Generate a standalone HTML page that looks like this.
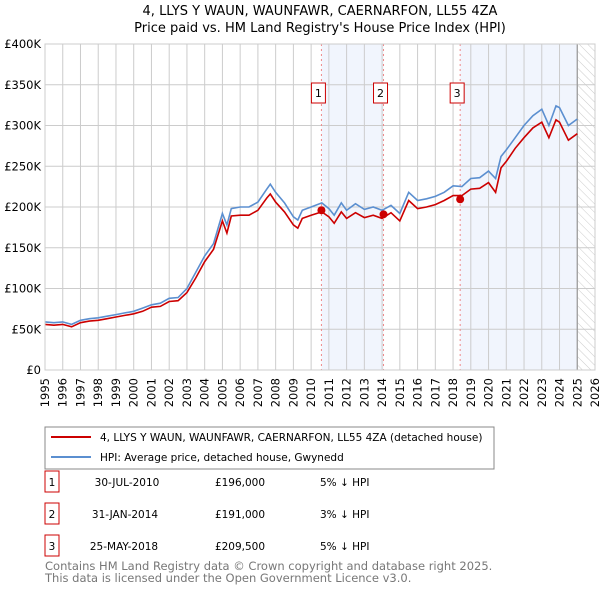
<!DOCTYPE html>
<html><head><meta charset="utf-8">
<style>
body{margin:0;background:#fff;font-family:"Liberation Sans","DejaVu Sans",sans-serif;}
svg text{font-family:"DejaVu Sans","Liberation Sans",sans-serif;}
</style></head>
<body>
<svg width="600" height="590" viewBox="0 0 600 590" xmlns="http://www.w3.org/2000/svg">
<defs>
<pattern id="hatch" width="6" height="6" patternUnits="userSpaceOnUse" patternTransform="rotate(-45)">
<line x1="0" y1="0" x2="0" y2="6" stroke="#ccc" stroke-width="1"/>
</pattern>
</defs>
<text x="320" y="15" text-anchor="middle" font-size="13">4, LLYS Y WAUN, WAUNFAWR, CAERNARFON, LL55 4ZA</text>
<text x="320" y="32" text-anchor="middle" font-size="13">Price paid vs. HM Land Registry's House Price Index (HPI)</text>
<g id="plot"></g>
<g>
<rect x="45" y="427" width="449" height="42" fill="#fff" stroke="#888"/>
<line x1="51" y1="437" x2="91" y2="437" stroke="#cc0000" stroke-width="2"/>
<text x="100" y="441" font-size="10.5">4, LLYS Y WAUN, WAUNFAWR, CAERNARFON, LL55 4ZA (detached house)</text>
<line x1="51" y1="457" x2="91" y2="457" stroke="#5b8fd0" stroke-width="2"/>
<text x="100" y="461" font-size="10.5">HPI: Average price, detached house, Gwynedd</text>
</g>
<g font-size="10.5">
<rect x="45" y="471" width="14" height="21" fill="#fff" stroke="#cc0000"/>
<text x="52" y="486" text-anchor="middle">1</text>
<text x="127" y="486" text-anchor="middle">30-JUL-2010</text>
<text x="240" y="486" text-anchor="middle">£196,000</text>
<text x="320" y="486">5% ↓ HPI</text>
<rect x="45" y="503" width="14" height="21" fill="#fff" stroke="#cc0000"/>
<text x="52" y="518" text-anchor="middle">2</text>
<text x="125" y="518" text-anchor="middle">31-JAN-2014</text>
<text x="240" y="518" text-anchor="middle">£191,000</text>
<text x="320" y="518">3% ↓ HPI</text>
<rect x="45" y="535" width="14" height="21" fill="#fff" stroke="#cc0000"/>
<text x="52" y="550" text-anchor="middle">3</text>
<text x="124" y="550" text-anchor="middle">25-MAY-2018</text>
<text x="240" y="550" text-anchor="middle">£209,500</text>
<text x="320" y="550">5% ↓ HPI</text>
</g>
<text x="45" y="570" font-size="11.5" fill="#777">Contains HM Land Registry data © Crown copyright and database right 2025.</text>
<text x="45" y="582" font-size="11.5" fill="#777">This data is licensed under the Open Government Licence v3.0.</text>
</svg>
<script>
const years=[1995,1995.5,1996,1996.5,1997,1997.5,1998,1998.5,1999,1999.5,2000,2000.5,2001,2001.5,2002,2002.5,2003,2003.5,2004,2004.5,2005,2005.25,2005.5,2006,2006.5,2007,2007.5,2007.7,2008,2008.5,2009,2009.25,2009.5,2010,2010.6,2011,2011.3,2011.7,2012,2012.5,2013,2013.5,2014,2014.5,2015,2015.5,2016,2016.5,2017,2017.5,2018,2018.5,2019,2019.5,2020,2020.4,2020.7,2021,2021.5,2022,2022.5,2023,2023.4,2023.8,2024,2024.5,2025];
const hpiValues=[59,58,59,56,61,63,64,66,68,70,72,76,80,82,88,89,100,120,140,155,192,178,198,200,200,206,222,228,218,205,188,184,196,200,205,198,190,205,196,204,197,200,196,202,192,218,208,210,213,218,226,225,235,236,244,235,262,270,285,300,312,320,300,324,322,300,308];
const priceValues=[56,55,56,53,58,60,61,63,65,67,69,72,77,78,84,85,95,113,133,148,183,168,189,190,190,196,211,216,206,194,178,174,186,190,194,188,180,194,186,193,187,190,186,193,183,208,198,200,203,208,214,214,222,223,230,218,248,256,272,285,297,304,285,307,304,282,290];
const saleDates=[2010.58,2014.08,2018.4];
const salePrices=[196,191,209.5];
const saleLabels=["1","2","3"];
const yTicks=[0,50,100,150,200,250,300,350,400];
const yTickLabels=["£0","£50K","£100K","£150K","£200K","£250K","£300K","£350K","£400K"];
const xTickYears=[1995,1996,1997,1998,1999,2000,2001,2002,2003,2004,2005,2006,2007,2008,2009,2010,2011,2012,2013,2014,2015,2016,2017,2018,2019,2020,2021,2022,2023,2024,2025,2026];

const L=45,R=595,T=44,B=370,X0=1995,X1=2026,YMAX=400,DATA_END=2025.0;
const xs=v=>L+(v-X0)/(X1-X0)*(R-L);
const ys=v=>B-v/YMAX*(B-T);
const NS='http://www.w3.org/2000/svg';
const g=document.getElementById('plot');
function mk(tag,attrs){const e=document.createElementNS(NS,tag);for(const k in attrs)e.setAttribute(k,attrs[k]);g.appendChild(e);return e;}

const b1=mk('rect',{x:xs(saleDates[0]),y:T,width:xs(saleDates[1])-xs(saleDates[0]),height:B-T,fill:'#eef3fc',opacity:0.8});


const b2=mk('rect',{x:xs(saleDates[2]),y:T,width:xs(DATA_END)-xs(saleDates[2]),height:B-T,fill:'#eef3fc',opacity:0.8});


const hz=mk('rect',{x:xs(DATA_END),y:T,width:R-xs(DATA_END),height:B-T,fill:'url(#hatch)'});



xTickYears.forEach(yr=>{
  const l=mk('line',{x1:xs(yr),x2:xs(yr),y1:T,y2:B,stroke:'#ccc','stroke-width':1});
  
  
  const t=mk('text',{x:0,y:0,'font-size':11.5,'text-anchor':'end',transform:`translate(${xs(yr)+4},${B+8}) rotate(-90)`});
  t.textContent=yr;
  
  
});
yTicks.forEach((v,i)=>{
  const l=mk('line',{x1:L,x2:R,y1:ys(v),y2:ys(v),stroke:'#ccc','stroke-width':1});
  
  
  const t=mk('text',{x:L-4,y:ys(v)+4,'font-size':11.5,'text-anchor':'end'});
  t.textContent=yTickLabels[i];
  
  
});
const el=mk('line',{x1:xs(DATA_END),x2:xs(DATA_END),y1:T,y2:B,stroke:'#999','stroke-width':1.2});



saleDates.forEach((d,i)=>{
  const l=mk('line',{x1:xs(d),x2:xs(d),y1:T,y2:B,stroke:'#e88','stroke-width':1,'stroke-dasharray':'2,3'});
  
  
});

function pts(vals){return years.map((y,i)=>xs(y).toFixed(1)+','+ys(vals[i]).toFixed(1)).join(' ');}
const hp=mk('polyline',{points:pts(hpiValues),fill:'none',stroke:'#5b8fd0','stroke-width':1.6});


const pp=mk('polyline',{points:pts(priceValues),fill:'none',stroke:'#cc0000','stroke-width':1.6});



saleDates.forEach((d,i)=>{
  const c=mk('circle',{cx:xs(d),cy:ys(salePrices[i]),r:4,fill:'#cc0000'});
  
  
  const r=mk('rect',{x:xs(d)-10,y:83,width:14,height:20,fill:'#fff',stroke:'#cc0000'});
  
  
  const t=mk('text',{x:xs(d)-3,y:97,'font-size':11,'text-anchor':'middle'});
  t.textContent=saleLabels[i];
  
  
});
const fr=mk('rect',{x:L,y:T,width:R-L,height:B-T,fill:'none',stroke:'#ccc'});


</script>
</body></html>
